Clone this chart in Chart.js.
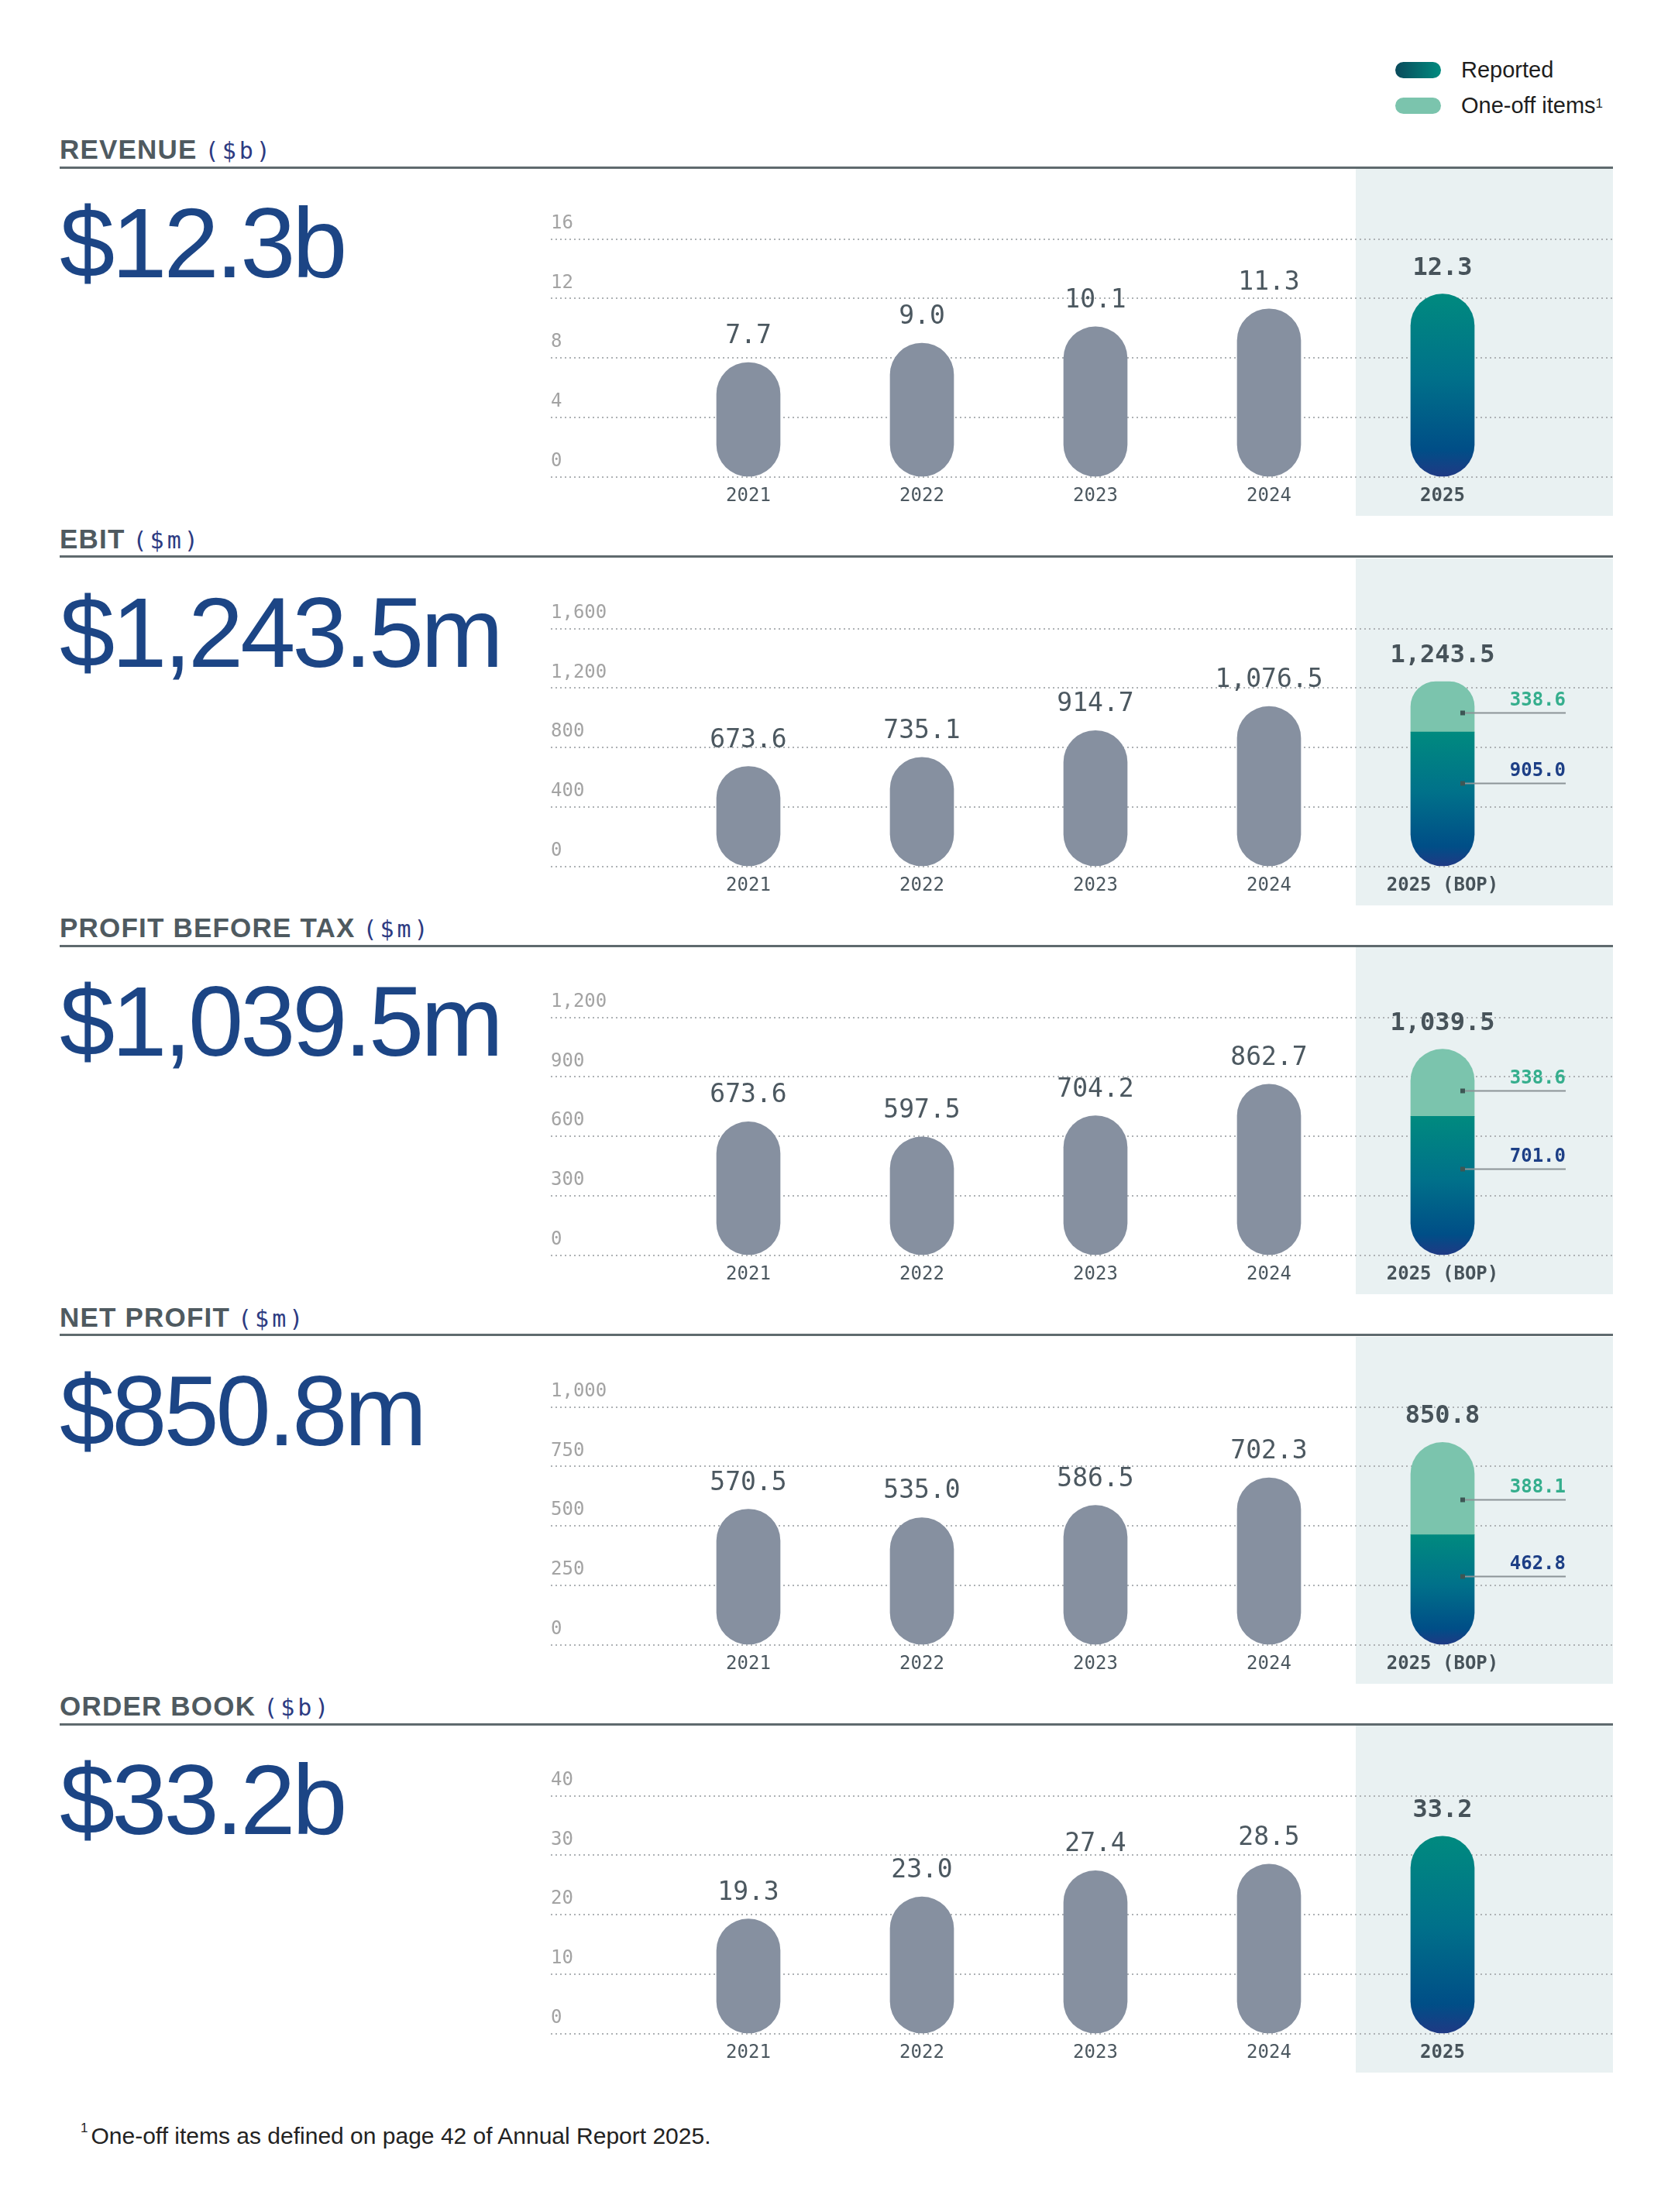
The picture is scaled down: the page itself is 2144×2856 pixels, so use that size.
<!DOCTYPE html>
<html lang="en">
<head>
<meta charset="utf-8">
<title>Five-year financial summary 2021 – 2025</title>

<script src="https://cdn.jsdelivr.net/npm/chart.js"></script>

<style>
  html,body{margin:0;padding:0;background:#fff}
  body{width:2144px;height:2856px;position:relative;overflow:hidden;font-family:"Liberation Sans",Arial,sans-serif}
  .legend{position:absolute;left:1801px;height:21px;display:flex;align-items:center;font-size:29px;line-height:21px;color:#1d1d1d;white-space:nowrap}
  .legend i{display:inline-block;width:59px;height:21px;border-radius:11px;margin-right:26px}
  .legend sup{font-size:17px;line-height:0;position:relative;top:-3px}
  .title{position:absolute;left:77px;font-size:35px;line-height:34px;font-weight:700;letter-spacing:1.2px;color:#4f5a60;white-space:nowrap}
  .title span{font-family:"DejaVu Sans Mono",monospace;font-weight:400;font-size:30px;letter-spacing:4px;color:#2d3b82;margin-left:10px}
  .rule{position:absolute;left:77px;width:2005px;height:3px;background:#5f6a6e}
  .big{position:absolute;left:77px;font-size:128px;line-height:128px;letter-spacing:-4px;color:#1c4585;white-space:nowrap}
  canvas.chart{position:absolute;left:711px}
  .note{position:absolute;left:104px;top:2743px;font-size:30px;line-height:30px;color:#222;white-space:nowrap}
  .note sup{font-size:17px;line-height:0;position:relative;top:-4px;margin-right:4px}
</style>
</head>
<body>

<div class="legend" style="top:80px"><i style="background:linear-gradient(90deg,#0a4a5b,#008b7f)"></i>Reported</div>
<div class="legend" style="top:126px"><i style="background:#7bc4ad"></i>One-off items<sup>1</sup></div>

<div id="sections"></div>

<div class="note"><sup>1</sup>One-off items as defined on page 42 of Annual Report 2025.</div>

<script>
const years = [2021, 2022, 2023, 2024, 2025];

// $b
const revenue      = [7.7, 9.0, 10.1, 11.3, 12.3];
const orderBook    = [19.3, 23.0, 27.4, 28.5, 33.2];

// $m, 2025 split into reported (BOP) and one-off items
const ebitReported = [673.6, 735.1, 914.7, 1076.5, 905.0];
const ebitOneOff   = [null, null, null, null, 338.6];
const ebitTotal    = [673.6, 735.1, 914.7, 1076.5, 1243.5];

const pbtReported  = [673.6, 597.5, 704.2, 862.7, 701.0];
const pbtOneOff    = [null, null, null, null, 338.6];
const pbtTotal     = [673.6, 597.5, 704.2, 862.7, 1039.5];

const npReported   = [570.5, 535.0, 586.5, 702.3, 462.8];
const npOneOff     = [null, null, null, null, 388.1];
const npTotal      = [570.5, 535.0, 586.5, 702.3, 850.8];

const titles   = ['REVENUE', 'EBIT', 'PROFIT BEFORE TAX', 'NET PROFIT', 'ORDER BOOK'];
const units    = ['b', 'm', 'm', 'm', 'b'];
const yMax     = [16, 1600, 1200, 1000, 40];
const yStep    = [4, 400, 300, 250, 10];
const reported = [revenue, ebitReported, pbtReported, npReported, orderBook];
const oneOff   = [null, ebitOneOff, pbtOneOff, npOneOff, null];
const totals   = [revenue, ebitTotal, pbtTotal, npTotal, orderBook];

// page layout
const TOP0 = 216, GAP = 502.5;
const CANVAS_W = 1371, CANVAS_H = 448;
const FIRST_X = 255, STEP = 224, BAR_W = 82, R = 41;

const MONO = '"DejaVu Sans Mono", monospace';
const GREY = '#8690a0';
const fmt = v => v.toLocaleString('en-US', {minimumFractionDigits: 1, maximumFractionDigits: 1});

function reportedFill(c) {
  if (c.dataIndex !== years.length - 1) return GREY;
  const ch = c.chart, ys = ch.scales.y;
  if (!ch.chartArea || !ys || c.parsed == null) return '#00778a';
  const top = ys.getPixelForValue(c.parsed.y);
  const bottom = ys.getPixelForValue(0);
  const g = ch.ctx.createLinearGradient(0, top, 0, bottom);
  g.addColorStop(0, '#008a7f');
  g.addColorStop(0.45, '#00718a');
  g.addColorStop(0.85, '#004e87');
  g.addColorStop(1, '#203984');
  return g;
}

const shade = {
  id: 'shade',
  beforeDraw(chart) {
    const {ctx, chartArea, scales: {x}} = chart;
    const left = x.getPixelForValue(years[years.length - 1] - 0.5);
    ctx.save();
    ctx.fillStyle = '#e9f1f2';
    ctx.fillRect(left, 0, chartArea.right - left, chart.height);
    ctx.restore();
  }
};

const values = {
  id: 'values',
  afterDatasetsDraw(chart, args, opts) {
    const {ctx} = chart;
    const last = years.length - 1;
    ctx.save();
    ctx.textAlign = 'center';
    ctx.textBaseline = 'alphabetic';
    chart.getDatasetMeta(0).data.forEach((bar, i) => {
      let top = bar.y;
      chart.data.datasets.forEach((ds, d) => {
        if (ds.data[i].y != null) top = Math.min(top, chart.getDatasetMeta(d).data[i].y);
      });
      ctx.font = i === last ? 'bold 32px ' + MONO : '33px ' + MONO;
      ctx.fillStyle = i === last ? '#47535a' : '#4c5860';
      ctx.fillText(fmt(opts.totals[i]), bar.x, top - 25);
    });

    if (chart.data.datasets.length > 1) {
      const parts = [
        {d: 1, at: 0.62, color: '#35ae8d'},
        {d: 0, at: 0.38, color: '#1d3f86'}
      ];
      parts.forEach(p => {
        const bar = chart.getDatasetMeta(p.d).data[last];
        const y = Math.round(bar.y + p.at * (bar.base - bar.y)) + 0.5;
        const start = bar.x + 26, end = bar.x + 159;
        ctx.strokeStyle = '#8c9497';
        ctx.lineWidth = 2;
        ctx.beginPath();
        ctx.moveTo(start, y);
        ctx.lineTo(end, y);
        ctx.stroke();
        ctx.fillStyle = '#3d5654';
        ctx.fillRect(start - 3, y - 3, 6, 6);
        ctx.font = 'bold 24px ' + MONO;
        ctx.textAlign = 'right';
        ctx.fillStyle = p.color;
        ctx.fillText(fmt(chart.data.datasets[p.d].data[last].y), end, y - 10);
      });
    }
    ctx.restore();
  }
};

const host = document.getElementById('sections');

titles.forEach((title, k) => {
  const H = TOP0 + GAP * k;
  const last = years.length - 1;

  const t = document.createElement('div');
  t.className = 'title';
  t.style.top = (H - 40) + 'px';
  t.innerHTML = title + '<span>($' + units[k] + ')</span>';
  host.appendChild(t);

  const rule = document.createElement('div');
  rule.className = 'rule';
  rule.style.top = (H - 1.5) + 'px';
  host.appendChild(rule);

  const big = document.createElement('div');
  big.className = 'big';
  big.style.top = (H + 34) + 'px';
  big.textContent = '$' + fmt(totals[k][last]) + units[k];
  host.appendChild(big);

  const cv = document.createElement('canvas');
  cv.className = 'chart';
  cv.width = CANVAS_W;
  cv.height = CANVAS_H;
  cv.style.top = (H + 2) + 'px';
  host.appendChild(cv);

  const split = oneOff[k] !== null;
  const xLabels = years.map((y, i) => i === last && split ? y + ' (BOP)' : String(y));

  const datasets = [{
    label: 'Reported',
    data: years.map((yr, i) => ({x: yr, y: reported[k][i]})),
    backgroundColor: reportedFill,
    borderRadius: c => (split && c.dataIndex === last)
      ? {topLeft: 0, topRight: 0, bottomLeft: R, bottomRight: R}
      : {topLeft: R, topRight: R, bottomLeft: R, bottomRight: R}
  }];
  if (split) {
    datasets.push({
      label: 'One-off items',
      data: years.map((yr, i) => ({x: yr, y: oneOff[k][i]})),
      backgroundColor: '#7bc4ad',
      borderRadius: {topLeft: R, topRight: R, bottomLeft: 0, bottomRight: 0}
    });
  }

  new Chart(cv, {
    type: 'bar',
    data: {datasets},
    options: {
      responsive: false,
      animation: false,
      events: [],
      datasets: {bar: {barThickness: BAR_W, borderSkipped: false, borderWidth: 0}},
      layout: {padding: {top: 90.5, left: 0, right: 0, bottom: 0}},
      plugins: {
        legend: {display: false},
        tooltip: {enabled: false},
        values: {totals: totals[k]}
      },
      scales: {
        x: {
          type: 'linear',
          stacked: true,
          offset: false,
          min: years[0] - FIRST_X / STEP,
          max: years[0] + (CANVAS_W - FIRST_X) / STEP,
          afterBuildTicks: s => { s.ticks = years.map(v => ({value: v})); },
          afterFit: s => { s.height = 50; },
          grid: {display: false},
          border: {display: false},
          ticks: {
            autoSkip: false,
            maxRotation: 0,
            padding: 2,
            color: c => c.index === last ? '#47535a' : '#4c5860',
            font: c => c.index === last
              ? {family: MONO, size: 24, weight: 'bold'}
              : {family: MONO, size: 24},
            callback: (v, i) => xLabels[i]
          }
        },
        y: {
          stacked: true,
          min: 0,
          max: yMax[k],
          ticks: {
            stepSize: yStep[k],
            mirror: true,
            padding: 0,
            labelOffset: -20,
            color: '#a3a3a3',
            font: {family: MONO, size: 24},
            callback: v => v.toLocaleString('en-US')
          },
          grid: {color: '#aeb2b5', lineWidth: 2, drawTicks: false},
          border: {display: false, dash: [2, 4]}
        }
      }
    },
    plugins: [shade, values]
  });
});
</script>

</body>
</html>
